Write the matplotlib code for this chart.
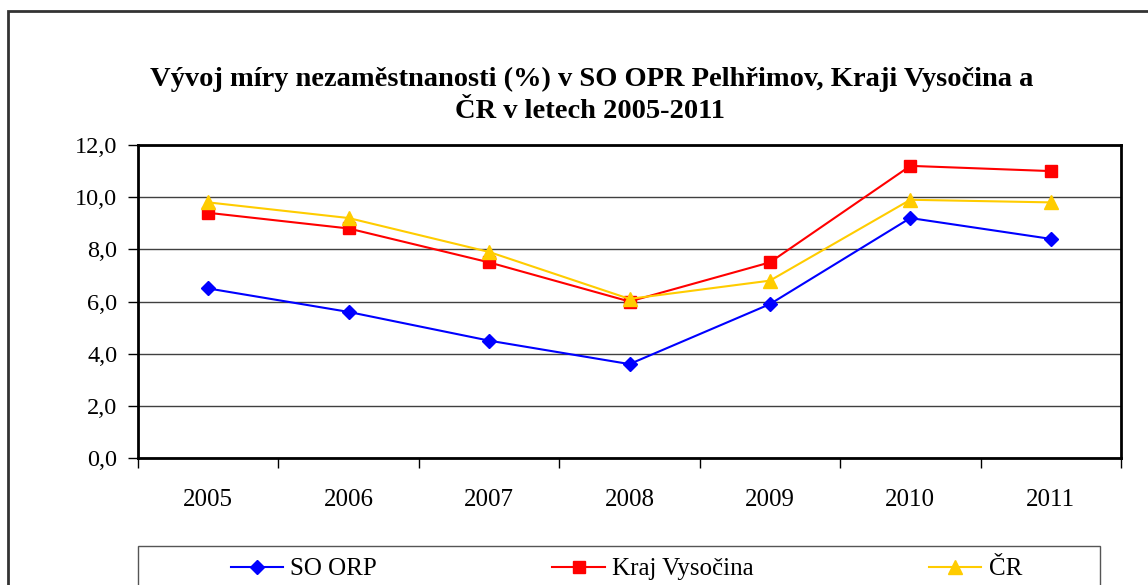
import matplotlib.pyplot as plt
from matplotlib.patches import Rectangle
from matplotlib.ticker import FixedLocator, FuncFormatter

# Data
roky = ["2005", "2006", "2007", "2008", "2009", "2010", "2011"]
so_orp = [6.5, 5.6, 4.5, 3.6, 5.9, 9.2, 8.4]
kraj_vysocina = [9.4, 8.8, 7.5, 6.0, 7.5, 11.2, 11.0]
cr = [9.8, 9.2, 7.9, 6.1, 6.8, 9.9, 9.8]

plt.rcParams['font.family'] = ['Liberation Serif', 'DejaVu Serif']

fig = plt.figure(figsize=(11.48, 5.85), dpi=100)
W, H = 1148, 585

# vnější rámeček
fig.patches.append(Rectangle((8 / W, -0.1), 1.2, 1 - 11 / H + 0.1, transform=fig.transFigure,
                             fill=False, edgecolor='#333333', linewidth=2))

ax = fig.add_axes([138 / W, 1 - 458 / H, (1121 - 138) / W, (458 - 145) / H])
x = list(range(len(roky)))

ax.plot(x, so_orp, color='#0000FF', marker='D', markersize=7, linewidth=1.5, label='SO ORP', zorder=3)
ax.plot(x, kraj_vysocina, color='#FF0000', marker='s', markersize=8, linewidth=1.5, label='Kraj Vysočina', zorder=3)
ax.plot(x, cr, color='#FFCC00', marker='^', markersize=10, linewidth=1.5, label='ČR', zorder=3)

ax.set_xlim(-0.5, len(roky) - 0.5)
ax.set_ylim(0, 12)
ax.set_yticks([0, 2, 4, 6, 8, 10, 12])
ax.yaxis.set_major_formatter(FuncFormatter(lambda v, p: f"{v:.1f}".replace('.', ',')))
ax.yaxis.grid(True, color='#404040', linewidth=1)
ax.set_axisbelow(True)

ax.xaxis.set_major_locator(FixedLocator([i - 0.5 for i in range(len(roky) + 1)]))
ax.xaxis.set_minor_locator(FixedLocator(x))
ax.set_xticklabels([], minor=False)
ax.set_xticklabels(roky, minor=True)
ax.tick_params(axis='x', which='major', direction='out', length=7, width=1)
ax.tick_params(axis='x', which='minor', length=0, pad=22, labelsize=18)
ax.tick_params(axis='y', direction='out', length=7, width=1, pad=8, labelsize=17.5)

for s in ax.spines.values():
    s.set_linewidth(2)
    s.set_color('black')

fig.text(592 / W, 1 - 79 / H, "Vývoj míry nezaměstnanosti (%) v SO OPR Pelhřimov, Kraji Vysočina a",
         ha='center', va='center', fontsize=20.5, fontweight='bold')
fig.text(590 / W, 1 - 111 / H, "ČR v letech 2005-2011",
         ha='center', va='center', fontsize=20.5, fontweight='bold')

# legenda
fig.patches.append(Rectangle((138 / W, -0.1), (1100 - 138) / W, 1 - 546 / H + 0.1, transform=fig.transFigure,
                             fill=False, edgecolor='#555555', linewidth=1))
fig.legend(loc='center left', bbox_to_anchor=(218 / W, 1 - 569 / H), ncol=3, frameon=False,
           fontsize=18, handlelength=2.1, handletextpad=0.3, columnspacing=7.0,
           borderpad=0, markerscale=1.0)

fig.savefig('out.png', dpi=100)
